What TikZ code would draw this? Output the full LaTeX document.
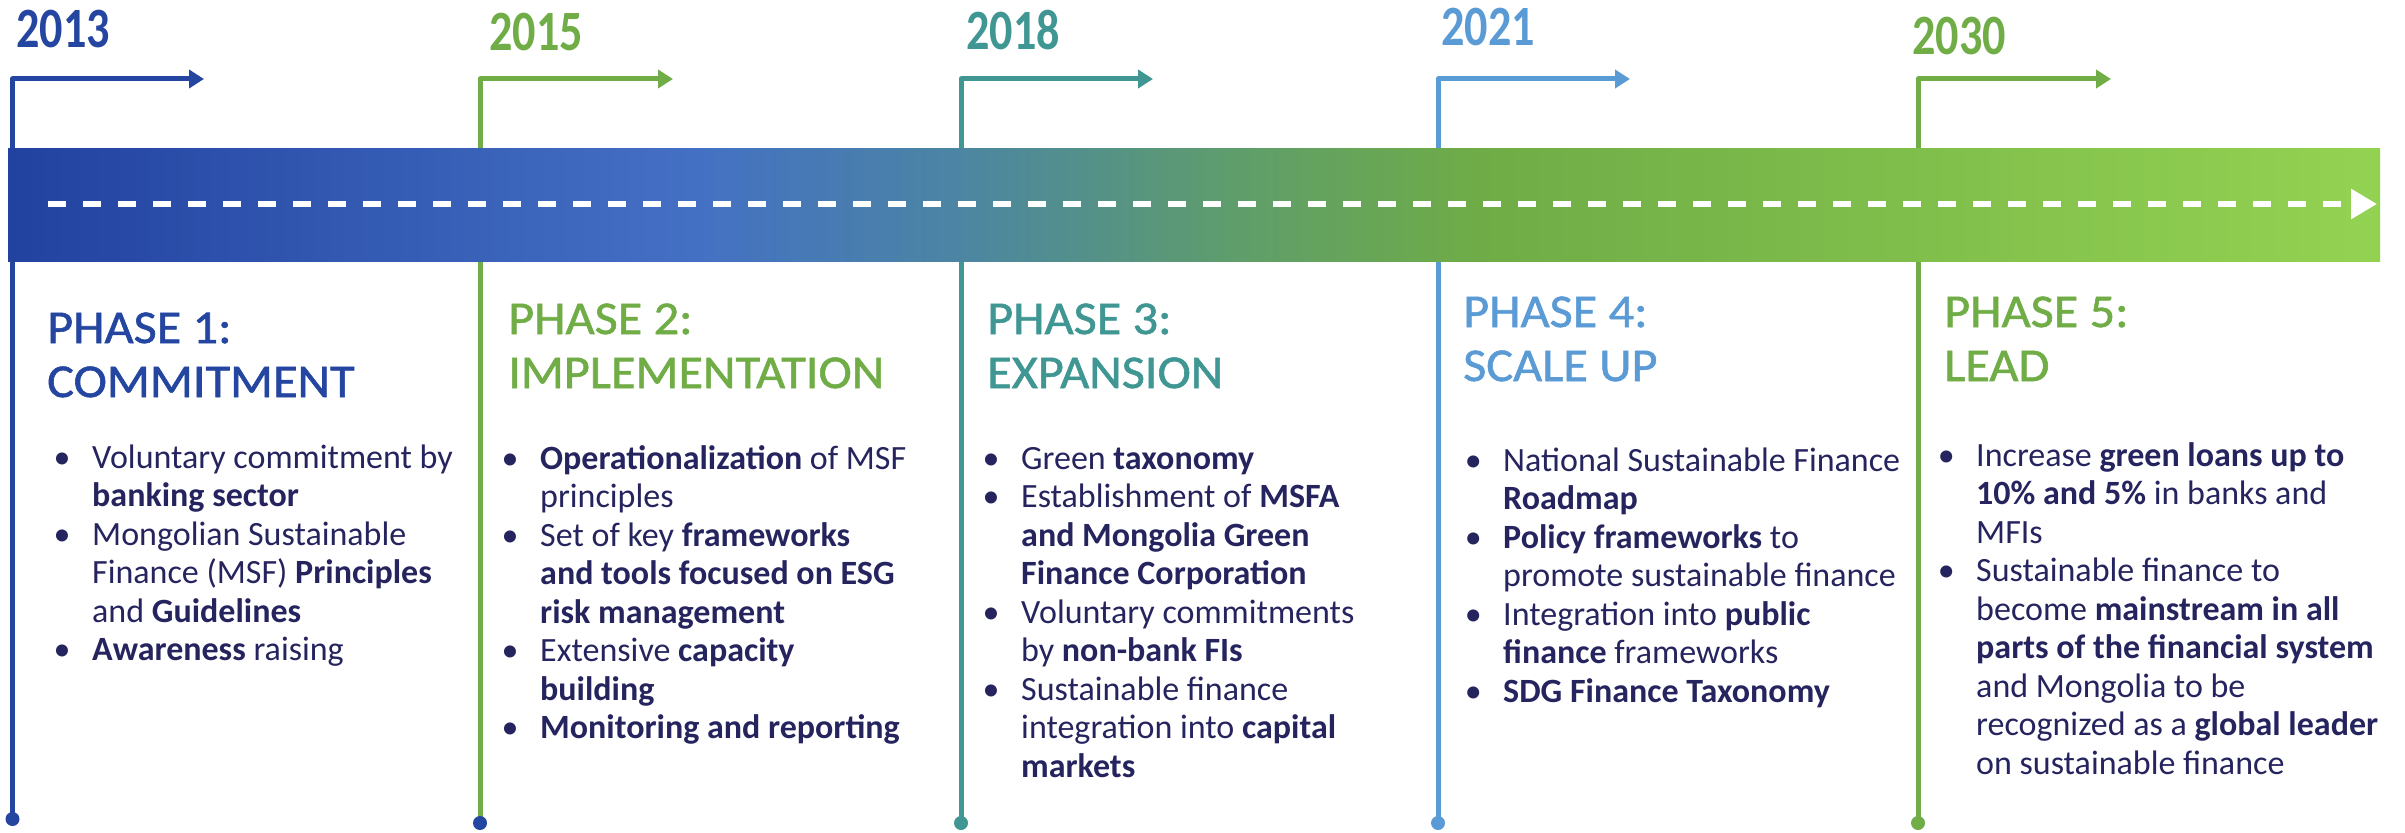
\documentclass[tikz,border=0pt]{standalone}
\usepackage{fontspec}
\setmainfont{Carlito}
\newfontfamily\ttlfont{Carlito}[FakeStretch=1.07, FakeBold=1.2]
\usepackage{graphicx}
\usetikzlibrary{arrows.meta}
\definecolor{cblue}{HTML}{2446A0}
\definecolor{cgreen}{HTML}{70AD47}
\definecolor{cteal}{HTML}{3F9692}
\definecolor{clight}{HTML}{5B9BD5}
\definecolor{navy}{HTML}{25245E}
\definecolor{g0}{HTML}{2242A0}
\definecolor{g1}{HTML}{4470C4}
\definecolor{g2}{HTML}{4B85A3}
\definecolor{g3}{HTML}{5F9E6A}
\definecolor{g4}{HTML}{6FAC47}
\definecolor{g5}{HTML}{93D251}
\pgfdeclarehorizontalshading{bandshade}{100bp}{color(0bp)=(g0); color(25bp)=(g0); color(39.5bp)=(g1); color(45bp)=(g2); color(51bp)=(g3); color(56bp)=(g4); color(75bp)=(g5); color(100bp)=(g5)}
\newlength\bw
\setlength\bw{30pt}
\newcommand\bl{\makebox[\bw][l]{\makebox[0pt]{\textbullet}}}
\tikzset{
  conn/.style={line width=5pt, line join=round, -{Triangle[length=15pt,width=18pt]}},
  dotn/.style={circle, inner sep=0pt, minimum size=14pt},
  yearlbl/.style={anchor=base west, inner sep=0pt, font=\fontsize{57}{60}\selectfont\bfseries},
  ttl/.style={anchor=base west, inner sep=0pt, font=\ttlfont\fontsize{47}{54}\selectfont},
  body/.style={anchor=base west, inner sep=0pt, text=navy, font=\fontsize{34}{38.5}\selectfont},
  dashln/.style={white, line width=6pt, dash pattern=on 18pt off 17pt, -{Triangle[length=26pt,width=29pt]}}
}
\begin{document}
\begin{tikzpicture}[x=1pt,y=-1pt]
\useasboundingbox (0,0) rectangle (2405,832);
% connector coordinates
\coordinate (b1) at (12.5,819);
\coordinate (b2) at (480,823);
\coordinate (b3) at (961,823);
\coordinate (b4) at (1438,823);
\coordinate (b5) at (1918,823);
\coordinate (a1) at (204,79);
\coordinate (a2) at (673,79);
\coordinate (a3) at (1153,79);
\coordinate (a4) at (1630,79);
\coordinate (a5) at (2111,79);
\draw[conn, cblue] (b1) |- (a1);
\draw[conn, cgreen] (b2) |- (a2);
\draw[conn, cteal] (b3) |- (a3);
\draw[conn, clight] (b4) |- (a4);
\draw[conn, cgreen] (b5) |- (a5);
\node[dotn, fill=cblue] (d1) at (b1) {};
\node[dotn, fill=cblue] (d2) at (b2) {};
\node[dotn, fill=cteal] (d3) at (b3) {};
\node[dotn, fill=clight] (d4) at (b4) {};
\node[dotn, fill=cgreen] (d5) at (b5) {};
% band
\shade[shading=bandshade] (8,148) rectangle (2380,261);
\coordinate (ds) at (48,204);
\coordinate (de) at (2377,204);
\draw[dashln] (ds) -- (de);
% years
\node[yearlbl, text=cblue] (y1) at (16,48) {\scalebox{0.81}[1]{2013}};
\node[yearlbl, text=cgreen] (y2) at (489,51) {\scalebox{0.81}[1]{2015}};
\node[yearlbl, text=cteal] (y3) at (966,50) {\scalebox{0.81}[1]{2018}};
\node[yearlbl, text=clight] (y4) at (1441,46) {\scalebox{0.81}[1]{2021}};
\node[yearlbl, text=cgreen] (y5) at (1912,55) {\scalebox{0.81}[1]{2030}};
% titles
\node[ttl, text=cblue] (t1) at (47,343) {\begin{tabular}[t]{@{}l@{}}PHASE 1:\\COMMITMENT\end{tabular}};
\node[ttl, text=cgreen] (t2) at (508,334) {\begin{tabular}[t]{@{}l@{}}PHASE 2:\\IMPLEMENTATION\end{tabular}};
\node[ttl, text=cteal] (t3) at (987,334) {\begin{tabular}[t]{@{}l@{}}PHASE 3:\\EXPANSION\end{tabular}};
\node[ttl, text=clight] (t4) at (1463,327) {\begin{tabular}[t]{@{}l@{}}PHASE 4:\\SCALE UP\end{tabular}};
\node[ttl, text=cgreen] (t5) at (1944,327) {\begin{tabular}[t]{@{}l@{}}PHASE 5:\\LEAD\end{tabular}};
% bodies
\node[body] (p1) at (62,468) {\begin{tabular}[t]{@{}l@{}l@{}}
\bl & Voluntary commitment by\\
 & \textbf{banking sector}\\
\bl & Mongolian Sustainable\\
 & Finance (MSF) \textbf{Principles}\\
 & and \textbf{Guidelines}\\
\bl & \textbf{Awareness} raising
\end{tabular}};
\node[body] (p2) at (510,469) {\begin{tabular}[t]{@{}l@{}l@{}}
\bl & \textbf{Operationalization} of MSF\\
 & principles\\
\bl & Set of key \textbf{frameworks}\\
 & \textbf{and tools focused on ESG}\\
 & \textbf{risk management}\\
\bl & Extensive \textbf{capacity}\\
 & \textbf{building}\\
\bl & \textbf{Monitoring and reporting}
\end{tabular}};
\node[body] (p3) at (991,469) {\begin{tabular}[t]{@{}l@{}l@{}}
\bl & Green \textbf{taxonomy}\\
\bl & Establishment of \textbf{MSFA}\\
 & \textbf{and Mongolia Green}\\
 & \textbf{Finance Corporation}\\
\bl & Voluntary commitments\\
 & by \textbf{non-bank FIs}\\
\bl & Sustainable finance\\
 & integration into \textbf{capital}\\
 & \textbf{markets}
\end{tabular}};
\node[body] (p4) at (1473,471) {\begin{tabular}[t]{@{}l@{}l@{}}
\bl & National Sustainable Finance\\
 & \textbf{Roadmap}\\
\bl & \textbf{Policy frameworks} to\\
 & promote sustainable finance\\
\bl & Integration into \textbf{public}\\
 & \textbf{finance} frameworks\\
\bl & \textbf{SDG Finance Taxonomy}
\end{tabular}};
\node[body] (p5) at (1946,466) {\begin{tabular}[t]{@{}l@{}l@{}}
\bl & Increase \textbf{green loans up to}\\
 & \textbf{10\% and 5\%} in banks and\\
 & MFIs\\
\bl & Sustainable finance to\\
 & become \textbf{mainstream in all}\\
 & \textbf{parts of the financial system}\\
 & and Mongolia to be\\
 & recognized as a \textbf{global leader}\\
 & on sustainable finance
\end{tabular}};
\end{tikzpicture}
\end{document}
